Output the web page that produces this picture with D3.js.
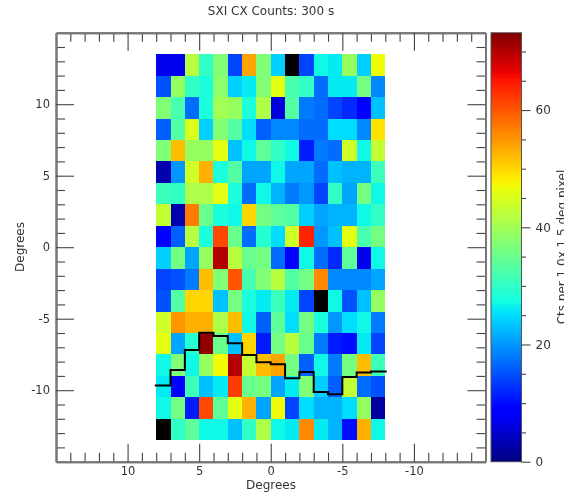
<!DOCTYPE html>
<html>
<head>
<meta charset="utf-8">
<style>
  html, body { margin: 0; padding: 0; background: #fff; overflow: hidden; }
  svg { display: block; filter: blur(0.4px); }
  text { font-family: "DejaVu Sans", sans-serif; fill: #333; }
</style>
<script src="https://cdn.jsdelivr.net/npm/d3@7"></script>
</head>
<body>
<svg id="chart" width="564" height="496"></svg>
<script>
// cell edges in degrees
const colLeft = [8, 7, 6, 5, 4, 3, 2, 1, 0, -1, -2, -3, -4, -5, -6, -7];
const rowTop = [13.5, 12, 10.5, 9, 7.5, 6, 4.5, 3, 1.5, 0, -1.5, -3, -4.5, -6, -7.5, -9, -10.5, -12];

// counts per cell. null is a black cell
const counts = [
  [7, 7, 42, 30, 37, 14, 54, 37, 24, null, 14, 27, 26, 39, 24, 47],
  [15, 39, 30, 28, 38, 24, 26, 37, 46, 32, 30, 17, 26, 26, 36, 19],
  [37, 32, 17, 28, 40, 39, 28, 41, 6, 33, 18, 17, 14, 12, 8, 23],
  [16, 33, 45, 24, 37, 33, 25, 16, 19, 19, 17, 17, 25, 25, 19, 49],
  [37, 52, 39, 39, 46, 23, 27, 34, 30, 27, 11, 18, 17, 44, 27, 43],
  [3, 20, 44, 53, 28, 33, 21, 21, 27, 21, 21, 17, 23, 22, 22, 31],
  [31, 30, 41, 41, 46, 28, 17, 27, 22, 18, 20, 14, 30, 21, 36, 27],
  [43, 3, 57, 35, 28, 27, 50, 36, 34, 33, 24, 21, 22, 22, 27, 30],
  [8, 16, 42, 28, 61, 35, 17, 29, 25, 44, 64, 20, 23, 46, 32, 36],
  [24, 36, 21, 39, 70, 42, 35, 36, 17, 8, 27, 17, 12, 34, 7, 27],
  [14, 15, 18, 52, 37, 60, 32, 37, 42, 33, 36, 56, 19, 19, 19, 21],
  [15, 33, 50, 50, 23, 36, 28, 26, 31, 26, 14, null, 27, 15, 23, 39],
  [44, 55, 53, 53, 41, 52, 27, 16, 34, 25, 36, 28, 20, 25, 27, 18],
  [46, 21, 29, 72, 35, 23, 50, 11, 36, 42, 35, 18, 11, 10, 26, 14],
  [27, 37, 27, 39, 47, 70, 43, 52, 54, 36, 16, 27, 18, 36, 52, 31],
  [26, 8, 31, 23, 26, 62, 35, 36, 21, 26, 37, 24, 16, 43, 17, 15],
  [27, 36, 11, 61, 34, 46, 53, 21, 47, 14, 25, 22, 22, 25, 39, 2],
  [null, 30, 34, 27, 27, 23, 30, 41, 27, 26, 56, 26, 22, 10, 53, 27]
];

// black profile line, one level per column
const profileEdges = [8.1, 7, 6, 5, 4, 3, 2, 1, 0, -1, -2, -3, -4, -5, -6, -7, -8.1];
const profileLevels = [-9.67, -8.58, -7.19, -5.98, -6.21, -6.72, -7.54, -8.05, -8.19, -9.17, -8.72, -10.12, -10.28, -9.07, -8.77, -8.70];

const xMajor = [10, 5, 0, -5, -10];
const yMajor = [10, 5, 0, -5, -10];
const barMajor = [0, 20, 40, 60];
const barMinor = [5, 10, 15, 25, 30, 35, 45, 50, 55, 65, 70];
const barMax = 73.2;

const titleText = "SXI CX Counts: 300 s";
const axisLabel = "Degrees";
const barLabel = "Cts per  1.0x 1.5 deg pixel";

const frame = { left: 56, right: 485.5, top: 32.7, bottom: 461.7 };
const bar = { left: 491, right: 521.5 };

var svg = d3.select("#chart");

var x = d3.scaleLinear().domain([15, -15]).range([frame.left, frame.right]);
var y = d3.scaleLinear().domain([15, -15]).range([frame.top, frame.bottom]);
var c = d3.scaleLinear().domain([0, barMax]).range([frame.bottom, frame.top]);

// jet colormap
var jetR = d3.scaleLinear().domain([0, 0.35, 0.66, 0.89, 1]).range([0, 0, 255, 255, 128]);
var jetG = d3.scaleLinear().domain([0, 0.125, 0.375, 0.64, 0.91, 1]).range([0, 0, 255, 255, 0, 0]);
var jetB = d3.scaleLinear().domain([0, 0.11, 0.34, 0.65, 1]).range([128, 255, 255, 0, 0]);
function color(v) {
  if (v == null) return "#000";
  var t = v / barMax;
  return d3.rgb(jetR(t), jetG(t), jetB(t)).toString();
}

// cells
var rows = svg.append("g").attr("shape-rendering", "crispEdges")
  .selectAll("g")
  .data(counts)
  .enter()
  .append("g");
rows.selectAll("rect")
  .data(function(d, i) {
    return d.map(function(v, j) {
      return { v: v, left: colLeft[j], top: rowTop[i] };
    });
  })
  .enter()
  .append("rect")
  .attr("x", function(d) { return x(d.left); })
  .attr("y", function(d) { return y(d.top); })
  .attr("width", function(d) { return x(d.left - 1) - x(d.left); })
  .attr("height", function(d) { return y(d.top - 1.5) - y(d.top); })
  .attr("fill", function(d) { return color(d.v); });

// profile
var profile = d3.line()
  .x(function(d) { return x(d[0]); })
  .y(function(d) { return y(d[1]); })
  .curve(d3.curveStepAfter);
svg.append("path")
  .datum(profileEdges.map(function(e, i) {
    return [e, i < profileLevels.length ? profileLevels[i] : profileLevels[i - 1]];
  }))
  .attr("d", profile)
  .attr("fill", "none")
  .attr("stroke", "#000")
  .attr("stroke-width", 2);

function styleAxis(g) {
  g.select(".domain").attr("stroke", "#777").attr("stroke-width", 2);
  g.selectAll(".tick line").attr("stroke", "#444").attr("stroke-width", 1.1);
  g.selectAll("text").attr("font-size", 11.5).attr("fill", "#333").attr("font-family", "DejaVu Sans");
}

// frame ticks, minor every degree and major every 5
var minorVals = d3.range(-14, 15).filter(function(d) { return d % 5 != 0; });
var fmtPlain = function(d) { return String(d); };

function frameAxis(maker, scale, pos, major, padding, format) {
  var g = svg.append("g").attr("transform", pos);
  g.append("g")
    .call(maker(scale).tickValues(minorVals).tickSizeInner(-9).tickSizeOuter(0).tickFormat(""))
    .call(styleAxis);
  g.append("g")
    .call(maker(scale).tickValues(major).tickSizeInner(-18).tickSizeOuter(0).tickPadding(padding).tickFormat(format))
    .call(styleAxis);
}

frameAxis(d3.axisBottom, x, "translate(0," + frame.bottom + ")", xMajor, 5, fmtPlain);
frameAxis(d3.axisLeft, y, "translate(" + frame.left + ",0)", yMajor, 6, fmtPlain);
frameAxis(d3.axisTop, x, "translate(0," + frame.top + ")", xMajor, 0, "");
frameAxis(d3.axisRight, y, "translate(" + frame.right + ",0)", yMajor, 0, "");

// colorbar
svg.append("g").attr("shape-rendering", "crispEdges")
  .selectAll("rect")
  .data(d3.range(0, barMax, 0.2))
  .enter()
  .append("rect")
  .attr("x", bar.left)
  .attr("width", bar.right - bar.left)
  .attr("y", function(d) { return c(d + 0.2); })
  .attr("height", function(d) { return c(d) - c(d + 0.2) + 0.5; })
  .attr("fill", color);
svg.append("rect")
  .attr("x", bar.left)
  .attr("y", frame.top)
  .attr("width", bar.right - bar.left)
  .attr("height", frame.bottom - frame.top)
  .attr("fill", "none")
  .attr("stroke", "#555")
  .attr("stroke-width", 1);

var barAxis = svg.append("g").attr("transform", "translate(" + bar.right + ",0)");
barAxis.append("g")
  .call(d3.axisRight(c).tickValues(barMinor).tickSizeInner(4.5).tickSizeOuter(0).tickFormat(""))
  .call(styleAxis);
barAxis.append("g")
  .call(d3.axisRight(c).tickValues(barMajor).tickSizeInner(9).tickSizeOuter(0).tickPadding(5).tickFormat(fmtPlain))
  .call(styleAxis);
barAxis.selectAll(".domain").attr("stroke", "none");
barAxis.selectAll("text").attr("font-size", 12);

// text
svg.append("text")
  .attr("x", 271)
  .attr("y", 15)
  .attr("text-anchor", "middle")
  .attr("font-size", 12)
  .text(titleText);
svg.append("text")
  .attr("x", 271)
  .attr("y", 488.5)
  .attr("text-anchor", "middle")
  .attr("font-size", 12)
  .text(axisLabel);
svg.append("text")
  .attr("transform", "translate(24,247) rotate(-90)")
  .attr("text-anchor", "middle")
  .attr("font-size", 12)
  .text(axisLabel);
// runs off the right edge, as in the reference
svg.append("text")
  .attr("transform", "translate(565.5,247) rotate(-90)")
  .attr("text-anchor", "middle")
  .attr("font-size", 12)
  .text(barLabel);
</script>
</body>
</html>
